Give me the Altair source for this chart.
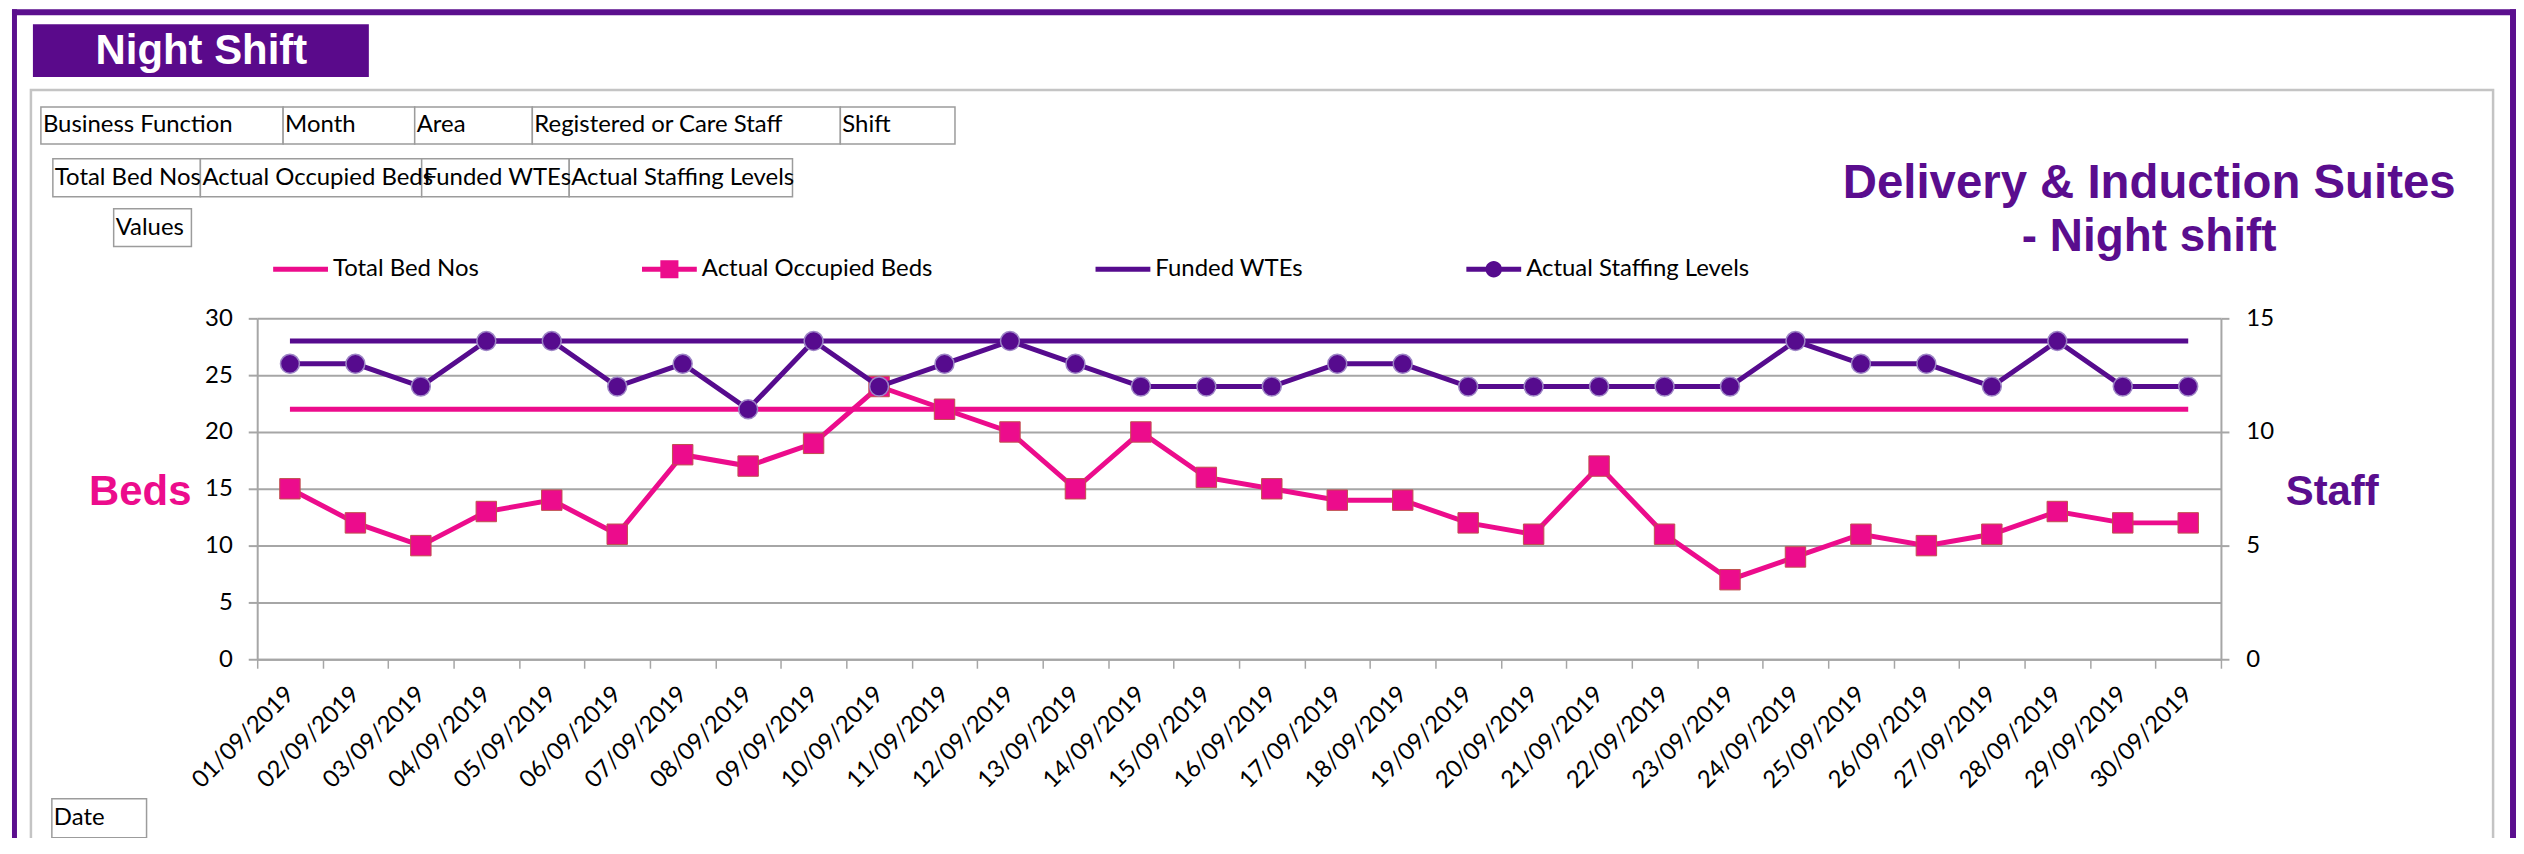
import altair as alt
import pandas as pd

# ---------------- data ----------------
dates = ["01/09/2019", "02/09/2019", "03/09/2019", "04/09/2019", "05/09/2019",
         "06/09/2019", "07/09/2019", "08/09/2019", "09/09/2019", "10/09/2019",
         "11/09/2019", "12/09/2019", "13/09/2019", "14/09/2019", "15/09/2019",
         "16/09/2019", "17/09/2019", "18/09/2019", "19/09/2019", "20/09/2019",
         "21/09/2019", "22/09/2019", "23/09/2019", "24/09/2019", "25/09/2019",
         "26/09/2019", "27/09/2019", "28/09/2019", "29/09/2019", "30/09/2019"]
total_bed_nos = [22, 22, 22, 22, 22, 22, 22, 22, 22, 22, 22, 22, 22, 22, 22,
                 22, 22, 22, 22, 22, 22, 22, 22, 22, 22, 22, 22, 22, 22, 22]
actual_occupied_beds = [15, 12, 10, 13, 14, 11, 18, 17, 19, 24, 22, 20, 15, 20, 16,
                        15, 14, 14, 12, 11, 17, 11, 7, 9, 11, 10, 11, 13, 12, 12]
funded_wtes = [14, 14, 14, 14, 14, 14, 14, 14, 14, 14, 14, 14, 14, 14, 14,
               14, 14, 14, 14, 14, 14, 14, 14, 14, 14, 14, 14, 14, 14, 14]
actual_staffing = [13, 13, 12, 14, 14, 12, 13, 11, 14, 12, 13, 14, 13, 12, 12,
                   12, 13, 13, 12, 12, 12, 12, 12, 14, 13, 13, 12, 14, 12, 12]
series_names = ["Total Bed Nos", "Actual Occupied Beds", "Funded WTEs", "Actual Staffing Levels"]
beds_ticks = [0, 5, 10, 15, 20, 25, 30]
staff_ticks = [0, 5, 10, 15]
filter_row1 = ["Business Function", "Month", "Area", "Registered or Care Staff", "Shift"]
filter_row2 = ["Total Bed Nos", "Actual Occupied Beds", "Funded WTEs", "Actual Staffing Levels"]
values_label = "Values"
date_label = "Date"
title_line1 = "Delivery & Induction Suites"
title_line2 = "- Night shift"
banner_text = "Night Shift"
left_title = "Beds"
right_title = "Staff"

beds_df = pd.DataFrame({
    "date": dates * 2,
    "series": [series_names[0]] * len(dates) + [series_names[1]] * len(dates),
    "value": total_bed_nos + actual_occupied_beds,
})
staff_df = pd.DataFrame({
    "date": dates * 2,
    "series": [series_names[2]] * len(dates) + [series_names[3]] * len(dates),
    "value": funded_wtes + actual_staffing,
})

# ---------------- styles / layout ----------------
PINK = "#EC0C8C"
PURPLE = "#560B8E"
TEXT_PURPLE = "#5A0D8E"
GRID = "#A6A6A6"
FONT = "Lato"
FS = 24
PW, PH = 1970, 342

# box layout in plot-relative pixels
row1_edges = [-217, 26, 158, 276, 585, 700]
row1_y = (-212, -175)
row2_edges = [-205, -57, 165, 313, 537]
row2_y = (-160, -122)
values_box = (-144, -110, -66, -72)
date_box = (-206, 482, -111, 521)

one = pd.DataFrame({"k": [0]})


def rect(x0, y0, x1, y1, fill="white", stroke=None, sw=0, fill_opacity=1):
    kw = dict(fill=fill, strokeWidth=sw, fillOpacity=fill_opacity)
    if stroke:
        kw["stroke"] = stroke
    return alt.Chart(one).mark_rect(**kw).encode(
        x=alt.value(x0), x2=alt.value(x1), y=alt.value(y0), y2=alt.value(y1))


def text(t, x, y, size, color="black", weight="normal", align="left",
         baseline="alphabetic", font=FONT):
    return alt.Chart(one).mark_text(
        text=t, font=font, fontSize=size, fontWeight=weight, color=color,
        align=align, baseline=baseline).encode(x=alt.value(x), y=alt.value(y))


decor_back = [
    # page frame
    rect(-246, -310, -241, 530, fill="#5B0F8E"),
    rect(-246, -310, 2266, -304, fill="#5B0F8E"),
    rect(2260, -310, 2266, 530, fill="#5B0F8E"),
    # chart panel border (no fill so axes stay visible)
    rect(-227, -229, 2243, 534, fill="white", stroke="#C4C4C4", sw=2.5, fill_opacity=0),
    # banner
    rect(-225, -295, 112, -242, fill="#5A0A8B"),
]
decor_text = [
    text(banner_text, -56, -255, 42, color="white", weight="bold", align="center",
         font="Liberation Sans"),
    text(title_line1, 1898, -121, 47.5, color=TEXT_PURPLE, weight="bold", align="center",
         font="Liberation Sans"),
    text(title_line2, 1898, -68, 46, color=TEXT_PURPLE, weight="bold", align="center",
         font="Liberation Sans"),
    text(left_title, -66, 187, 42, color=PINK, weight="bold", align="right",
         font="Liberation Sans"),
    text(right_title, 2035, 187, 42, color=TEXT_PURPLE, weight="bold", align="left",
         font="Liberation Sans"),
]
BOX_STROKE = "#9C9C9C"
for i, lab in enumerate(filter_row1):
    decor_back.append(rect(row1_edges[i], row1_y[0], row1_edges[i + 1], row1_y[1],
                           stroke=BOX_STROKE, sw=1.5))
    decor_text.append(text(lab, row1_edges[i] + 2, (row1_y[0] + row1_y[1]) / 2, FS,
                           baseline="middle"))
for i, lab in enumerate(filter_row2):
    decor_back.append(rect(row2_edges[i], row2_y[0], row2_edges[i + 1], row2_y[1],
                           stroke=BOX_STROKE, sw=1.5))
    decor_text.append(text(lab, row2_edges[i] + 2, (row2_y[0] + row2_y[1]) / 2, FS,
                           baseline="middle"))
decor_back.append(rect(*values_box, stroke=BOX_STROKE, sw=1.5))
decor_text.append(text(values_label, values_box[0] + 2, (values_box[1] + values_box[3]) / 2, FS,
                       baseline="middle"))
decor_back.append(rect(*date_box, stroke=BOX_STROKE, sw=1.5))
decor_text.append(text(date_label, date_box[0] + 2, (date_box[1] + date_box[3]) / 2, FS,
                       baseline="middle"))

# ---------------- encodings ----------------
x_enc = alt.X(
    "date:N", sort=dates, title=None,
    scale=alt.Scale(type="band", paddingInner=0, paddingOuter=0),
    axis=alt.Axis(tickBand="extent", labelAngle=-45, labelAlign="right",
                  labelBaseline="middle", labelPadding=22, tickSize=9,
                  tickColor=GRID, tickWidth=1.5, domainColor=GRID, domainWidth=2,
                  labelFont=FONT, labelFontSize=FS, labelColor="black",
                  grid=False, labelOverlap=False))

y_left = alt.Y(
    "value:Q", title=None, scale=alt.Scale(domain=[0, 30], nice=False),
    axis=alt.Axis(orient="left", values=beds_ticks, grid=True, gridColor=GRID,
                  gridWidth=2, tickSize=9, tickColor=GRID, tickWidth=2,
                  domainColor=GRID, domainWidth=2, labelPadding=16,
                  labelFont=FONT, labelFontSize=FS, labelColor="black"))
y_right = alt.Y(
    "value:Q", title=None, scale=alt.Scale(domain=[0, 15], nice=False),
    axis=alt.Axis(orient="right", values=staff_ticks, grid=False, tickSize=8,
                  tickColor=GRID, tickWidth=2, domainColor=GRID, domainWidth=2,
                  labelPadding=17, labelFont=FONT, labelFontSize=FS,
                  labelColor="black"))

color_scale = alt.Scale(domain=series_names, range=[PINK, PINK, PURPLE, PURPLE])

legend_paths = [
    "M-1,-0.09H1V0.09H-1Z",
    "M-1,-0.09H-0.33V0.09H-1Z M0.33,-0.09H1V0.09H0.33Z M-0.33,-0.33H0.33V0.33H-0.33Z",
    "M-1,-0.09H1V0.09H-1Z",
    "M-1,-0.09H-0.28V0.09H-1Z M0.28,-0.09H1V0.09H0.28Z "
    "M0.3,0A0.3,0.3 0 1 1 -0.3,0A0.3,0.3 0 1 1 0.3,0Z",
]
legend = alt.Legend(
    title=None, orient="none", legendX=16, legendY=-77, direction="horizontal",
    columnPadding=163, labelOffset=5, symbolSize=3025, symbolStrokeWidth=0,
    labelFont=FONT, labelFontSize=FS, labelColor="black", symbolOpacity=1,
    labelLimit=600)

# legend-only layer comes first so its legend settings win when merged
legend_layer = alt.Chart(beds_df).transform_filter("false").mark_point(
    filled=True, opacity=1).encode(
    color=alt.Color("series:N", scale=color_scale, legend=legend),
    shape=alt.Shape("series:N", scale=alt.Scale(domain=series_names, range=legend_paths),
                    legend=legend))
beds_line = alt.Chart(beds_df).mark_line(strokeWidth=5).encode(
    x=x_enc, y=y_left,
    color=alt.Color("series:N", scale=color_scale, legend=legend))
beds_pts = alt.Chart(beds_df).transform_filter(
    alt.datum.series == series_names[1]
).mark_square(size=420, filled=True, opacity=1, fill=PINK, stroke="#C0504D",
              strokeWidth=1).encode(x=x_enc, y=y_left)

staff_line = alt.Chart(staff_df).mark_line(strokeWidth=5).encode(
    x=x_enc, y=y_right,
    color=alt.Color("series:N", scale=color_scale, legend=legend))
staff_pts = alt.Chart(staff_df).transform_filter(
    alt.datum.series == series_names[3]
).mark_circle(size=360, opacity=1, fill=PURPLE, stroke="#9E86C6",
              strokeWidth=1.5).encode(x=x_enc, y=y_right)

beds = alt.layer(legend_layer, beds_line, beds_pts)
staff = alt.layer(staff_line, staff_pts)

chart = alt.layer(*decor_back, beds, staff, *decor_text).resolve_scale(
    y="independent"
).properties(
    width=PW, height=PH,
    padding={"left": 250, "top": 310, "right": 296, "bottom": 178},
    autosize=alt.AutoSizeParams(type="none"),
    background="white",
).configure_view(stroke=None)

chart.save("out.html", embed_options={"renderer": "svg", "actions": False})
